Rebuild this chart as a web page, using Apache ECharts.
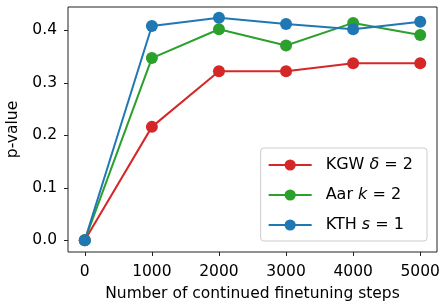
<!DOCTYPE html>
<html>
<head>
<meta charset="utf-8">
<script src="https://cdn.jsdelivr.net/npm/echarts@6/dist/echarts.min.js"></script>
<style>
  html, body { margin: 0; padding: 0; background: #fff; }
  #chart { width: 441px; height: 304px; }
</style>
</head>
<body>
<div id="chart"></div>
<script>
var steps = [0, 1000, 2000, 3000, 4000, 5000];
var kgw = [0, 0.216, 0.322, 0.322, 0.337, 0.337];
var aar = [0, 0.347, 0.402, 0.371, 0.414, 0.391];
var kth = [0, 0.408, 0.424, 0.412, 0.402, 0.416];
var xTicks = [0, 1000, 2000, 3000, 4000, 5000];
var yTicks = [0, 0.1, 0.2, 0.3, 0.4];

var font = 'DejaVu Sans';
var chart = echarts.init(document.getElementById('chart'));

function pairs(vals) {
  return steps.map(function (s, i) { return [s, vals[i]]; });
}
function line(name, color, vals) {
  return {
    name: name,
    type: 'line',
    data: pairs(vals),
    symbol: 'circle',
    symbolSize: 12,
    lineStyle: { color: color, width: 2 },
    itemStyle: { color: color },
    emphasis: { disabled: true },
    animation: false
  };
}

var option = {
  backgroundColor: '#fff',
  grid: {
    left: 68, top: 7, right: 4, bottom: 52,
    outerBoundsMode: 'none',
    show: true, borderColor: '#222', borderWidth: 1, backgroundColor: 'transparent'
  },
  legend: {
    right: 14, top: 148,
    orient: 'vertical',
    itemWidth: 43, itemHeight: 14, itemGap: 14,
    padding: [9, 14, 8, 7],
    borderColor: '#ccc', borderWidth: 1, borderRadius: 3,
    backgroundColor: 'rgba(255,255,255,0.8)',
    data: ['KGW', 'Aar', 'KTH'],
    formatter: function (n) {
      if (n === 'KGW') return '{a|KGW }{i|δ}{a| = 2}';
      if (n === 'Aar') return '{a|Aar }{i|k}{a| = 2}';
      return '{a|KTH }{i|s}{a| = 1}';
    },
    textStyle: {
      padding: [0, 0, 0, 9],
      rich: {
        a: { fontFamily: font, fontSize: 16, color: '#000' },
        i: { fontFamily: font, fontSize: 16, fontStyle: 'italic', color: '#000' }
      }
    }
  },
  xAxis: {
    type: 'value', min: -250, max: 5250,
    name: 'Number of continued finetuning steps',
    nameLocation: 'middle', nameGap: 34,
    nameTextStyle: { fontFamily: font, fontSize: 15.5, color: '#000' },
    axisLine: { show: false, onZero: false },
    splitLine: { show: false },
    axisTick: { show: true, customValues: xTicks, length: 4, inside: false, lineStyle: { color: '#222' } },
    axisLabel: {
      customValues: xTicks, fontFamily: font, fontSize: 15.5, color: '#000', margin: 12,
      formatter: function (v) { return String(v); }
    }
  },
  yAxis: {
    type: 'value', min: -0.0223, max: 0.4443,
    name: 'p-value',
    nameLocation: 'middle', nameGap: 44,
    nameTextStyle: { fontFamily: font, fontSize: 15.5, color: '#000' },
    axisLine: { show: false, onZero: false },
    splitLine: { show: false },
    axisTick: { show: true, customValues: yTicks, length: 4, inside: false, lineStyle: { color: '#222' } },
    axisLabel: {
      customValues: yTicks, fontFamily: font, fontSize: 15.5, color: '#000', margin: 11,
      formatter: function (v) { return v.toFixed(1); }
    }
  },
  series: [
    line('KGW', '#d62728', kgw),
    line('Aar', '#2ca02c', aar),
    line('KTH', '#1f77b4', kth)
  ]
};
chart.setOption(option);
</script>
</body>
</html>
